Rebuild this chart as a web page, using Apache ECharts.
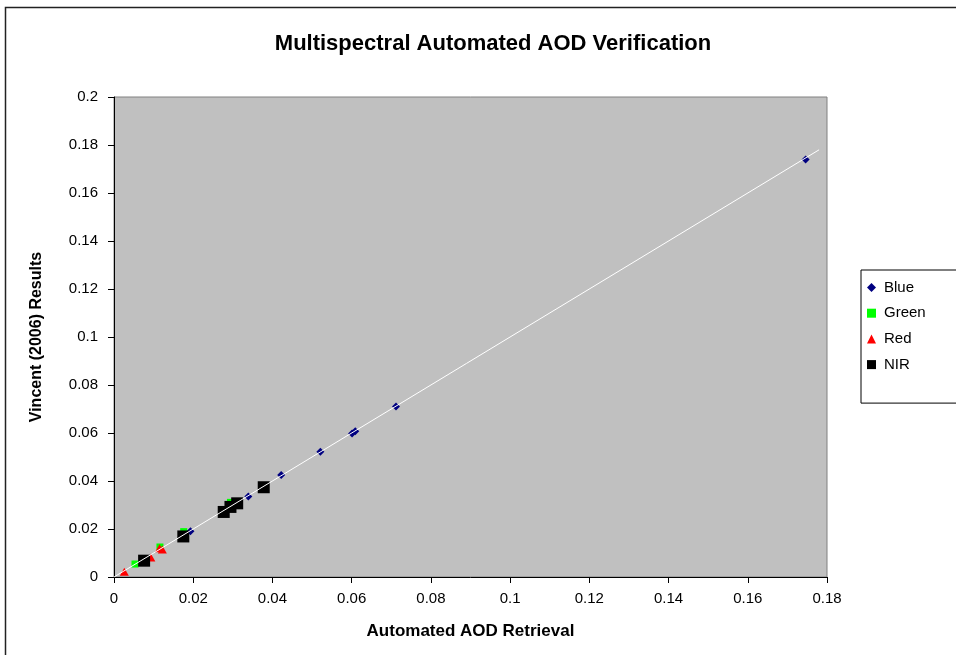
<!DOCTYPE html>
<html>
<head>
<meta charset="utf-8">
<script src="https://cdn.jsdelivr.net/npm/echarts@6/dist/echarts.min.js"></script>
<style>
html,body{margin:0;padding:0;background:#fff;}
#chart{width:956px;height:655px;}
</style>
</head>
<body>
<div id="chart"></div>
<script>
// ---- data ----
var titleText = 'Multispectral Automated AOD Verification';
var xName = 'Automated AOD Retrieval';
var yName = 'Vincent (2006) Results';
var seriesNames = ['Blue', 'Green', 'Red', 'NIR'];

var blueX = [0.0193, 0.0339, 0.0422, 0.0521, 0.0601, 0.0609, 0.0712, 0.1746];
var blueY = [0.0191, 0.0335, 0.0425, 0.0522, 0.0598, 0.0607, 0.0710, 0.1740];
var greenX = [0.0053, 0.0116, 0.0176, 0.0294];
var greenY = [0.0054, 0.0125, 0.0189, 0.0311];
var redX = [0.0026, 0.0093, 0.0115, 0.0122];
var redY = [0.0022, 0.0081, 0.0120, 0.0115];
var nirX = [0.0076, 0.0175, 0.0277, 0.0294, 0.0311, 0.0378];
var nirY = [0.0068, 0.0169, 0.0271, 0.0292, 0.0307, 0.0374];
var trendX = [0, 0.178];
var trendY = [0, 0.178];

var xMin = 0, xMax = 0.18, xStep = 0.02;
var yMin = 0, yMax = 0.2, yStep = 0.02;

function pairs(xs, ys) { return xs.map(function (x, i) { return [x, ys[i]]; }); }

var FONT = '"Liberation Sans", Arial, sans-serif';
var chart = echarts.init(document.getElementById('chart'), null, { renderer: 'canvas' });

function fmt(v) { return String(Math.round(v * 1000) / 1000); }

chart.setOption({
  animation: false,
  backgroundColor: '#ffffff',
  textStyle: { fontFamily: FONT },
  title: {
    text: titleText,
    left: 488, top: 28, textAlign: 'center',
    textStyle: { fontFamily: FONT, fontSize: 22, fontWeight: 'bold', color: '#000' }
  },
  graphic: [{
    type: 'rect', silent: true, z: 100,
    shape: { x: 5.5, y: 7.5, width: 1000, height: 700 },
    style: { fill: 'none', stroke: '#222', lineWidth: 1.5 }
  }],
  legend: {
    orient: 'vertical',
    left: 861, top: 270,
    padding: [10, 60, 31, 6],
    itemGap: 10.7,
    itemWidth: 9, itemHeight: 9,
    backgroundColor: '#fff',
    borderColor: '#000', borderWidth: 1, borderRadius: 0,
    data: seriesNames,
    textStyle: { fontFamily: FONT, fontSize: 15, lineHeight: 14, color: '#000', padding: [0, 0, 0, 3] }
  },
  grid: {
    left: 114, top: 97, width: 713, height: 480,
    show: true, backgroundColor: '#C0C0C0', borderColor: '#808080', borderWidth: 1,
    containLabel: false, outerBoundsMode: 'none'
  },
  xAxis: {
    type: 'value', min: xMin, max: xMax, interval: xStep,
    name: xName, nameLocation: 'middle', nameGap: 46,
    nameTextStyle: { fontFamily: FONT, fontSize: 17, fontWeight: 'bold', color: '#000' },
    axisLine: { show: true, onZero: false, lineStyle: { color: '#000', width: 1 } },
    axisTick: { show: true, inside: false, length: 6, lineStyle: { color: '#000' } },
    axisLabel: { margin: 14, fontFamily: FONT, fontSize: 15, color: '#000', formatter: fmt },
    splitLine: { show: false }
  },
  yAxis: {
    type: 'value', min: yMin, max: yMax, interval: yStep,
    name: yName, nameLocation: 'middle', nameGap: 69, nameRotate: 90,
    nameTextStyle: { fontFamily: FONT, fontSize: 16, fontWeight: 'bold', color: '#000' },
    axisLine: { show: true, onZero: false, lineStyle: { color: '#000', width: 1 } },
    axisTick: { show: true, inside: false, length: 6, lineStyle: { color: '#000' } },
    axisLabel: { margin: 16, fontFamily: FONT, fontSize: 15, color: '#000', formatter: fmt },
    splitLine: { show: false }
  },
  series: [
    { name: 'Blue', type: 'scatter', symbol: 'diamond', symbolSize: [8, 8], z: 2,
      itemStyle: { color: '#000080', opacity: 1 }, data: pairs(blueX, blueY) },
    { name: 'Green', type: 'scatter', symbol: 'rect', symbolSize: 7, z: 3,
      itemStyle: { color: '#00FF00', opacity: 1 }, data: pairs(greenX, greenY) },
    { name: 'Red', type: 'scatter', symbol: 'triangle', symbolSize: [9, 8], z: 4,
      itemStyle: { color: '#FF0000', opacity: 1 }, data: pairs(redX, redY) },
    { name: 'NIR', type: 'scatter', symbol: 'rect', symbolSize: 12, z: 5,
      itemStyle: { color: '#000000', opacity: 1 }, data: pairs(nirX, nirY) },
    { name: 'Trend', type: 'line', symbol: 'none', z: 10, silent: true,
      lineStyle: { color: '#ffffff', width: 1 }, data: pairs(trendX, trendY) }
  ]
});
</script>
</body>
</html>
